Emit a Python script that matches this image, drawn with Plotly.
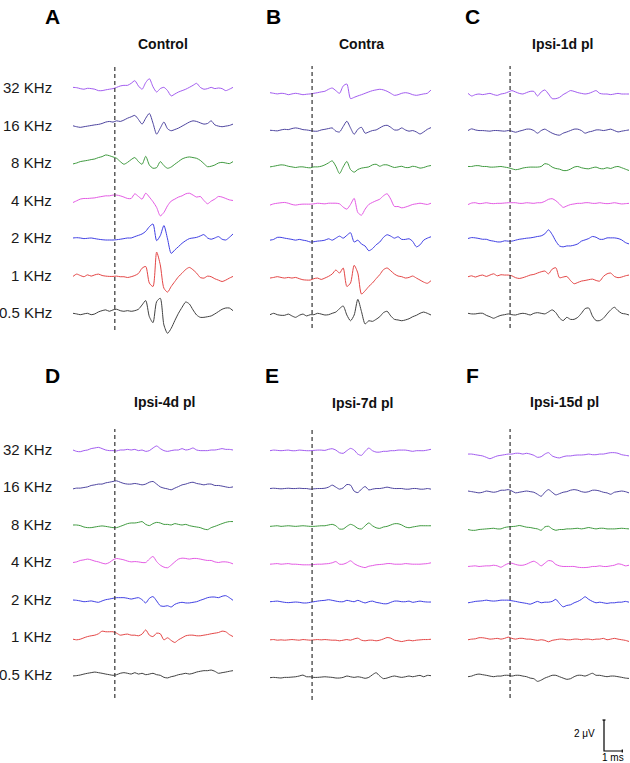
import plotly.graph_objects as go

# ---------------- data ----------------
TIME_MS = [-2.3, -2.1, -1.9, -1.7, -1.5, -1.3, -1.1, -0.9, -0.7, -0.5, -0.3, -0.1,
           0.1, 0.3, 0.5, 0.7, 0.9, 1.1, 1.3, 1.5, 1.7, 1.9, 2.1, 2.3, 2.5, 2.7,
           2.9, 3.1, 3.3, 3.5, 3.7, 3.9, 4.1, 4.3, 4.5, 4.7, 4.9, 5.1, 5.3, 5.5,
           5.7, 5.9, 6.1, 6.3, 6.5]

FREQ_LABELS = ["32 KHz", "16 KHz", "8 KHz", "4 KHz", "2 KHz", "1 KHz", "0.5 KHz"]
PANEL_TITLES = ["Control", "Contra", "Ipsi-1d pl", "Ipsi-4d pl", "Ipsi-7d pl", "Ipsi-15d pl"]
PANEL_LETTERS = ["A", "B", "C", "D", "E", "F"]

# amplitudes in microvolts, one list per frequency (32, 16, 8, 4, 2, 1, 0.5 KHz)
CONTROL = [
    [0.06,0.04,-0.02,-0.06,0,-0.02,-0.06,-0.15,-0.15,-0.1,-0.06,-0.02,0.06,0.15,0.19,0.19,0.32,0.49,0.15,-0.06,0.37,0.62,0.1,-0.24,-0.02,0.06,-0.15,-0.49,-0.37,-0.24,-0.15,-0.06,0.06,0.19,0.32,0.06,-0.06,-0.02,0.06,-0.02,0.02,-0.02,-0.15,-0.06,0.06],
    [0,-0.06,-0.1,-0.06,-0.02,0.02,0.06,0.09,0.15,0.24,0.28,0.24,0.32,0.28,0.37,0.49,0.58,0.67,0.41,0.11,0.49,0.8,0.17,-0.54,-0.15,0.24,-0.19,-0.32,-0.24,-0.15,-0.02,0.11,0.24,0.32,0.28,0.19,0.11,0.15,0.32,0.06,-0.02,-0.06,-0.02,0.02,0.11],
    [-0.04,0.02,0.11,0.15,0.19,0.24,0.28,0.37,0.43,0.54,0.49,0.41,0.32,0.11,-0.06,0.06,0.24,0.37,0.11,-0.06,0.45,-0.11,-0.32,-0.28,0.11,-0.15,-0.32,-0.24,-0.06,0.11,0.28,0.37,0.41,0.37,0.32,0.19,-0.02,-0.22,-0.19,-0.11,0.02,0.06,0.02,-0.02,0.11],
    [-0.11,0,0.11,0.15,0.15,0.17,0.19,0.24,0.28,0.32,0.32,0.37,0.37,0.32,0.24,0.15,0.15,0.45,0.28,0.11,0.49,0.24,-0.06,-0.43,-0.97,-0.75,-0.32,-0.02,0.11,0.24,0.32,0.45,0.49,0.37,0.24,0.28,0.02,-0.19,-0.02,0.11,0.28,0.24,0.15,0.06,0.02],
    [0.02,0.04,0.02,-0.02,0,0.02,-0.02,-0.06,-0.09,-0.11,-0.11,-0.11,-0.09,-0.06,-0.02,0.02,0.02,0.11,0.19,0.28,0.45,0.75,0.92,-0.15,0.17,0.82,-0.04,-0.97,-0.75,-0.54,-0.32,-0.15,-0.02,0.02,0.06,0.15,0.24,0.02,-0.06,0.02,0.11,-0.06,-0.11,0.06,0.28],
    [-0.04,0.11,0.02,-0.06,0.06,-0.02,0.06,0.11,0.02,-0.02,-0.04,-0.04,-0.02,-0.06,-0.06,-0.11,-0.06,0.02,0.15,0.49,0.6,-0.47,-0.69,1.53,0.71,-0.8,-1.05,-0.69,-0.37,-0.06,0.17,0.41,0.54,0.39,0.17,-0.11,-0.15,-0.02,-0.06,-0.19,-0.28,-0.37,-0.28,-0.15,-0.04],
    [0,-0.04,-0.09,-0.04,0,-0.09,-0.04,0.09,0.17,0.22,0.13,0.22,0.26,0.17,0.13,0.17,0.13,0.17,0.26,0.54,0.82,-0.22,-0.6,0.75,0.97,-0.75,-1.29,-0.97,-0.47,0,0.39,0.73,0.6,0.22,-0.11,-0.26,-0.26,-0.22,-0.17,-0.04,0.11,0.26,0.34,0.34,0.17],
]
CONTRA = [
    [0.04,0,-0.04,0,-0.02,-0.09,-0.04,0,-0.04,-0.09,-0.06,-0.04,0,0.04,0.09,0.13,0.26,0.34,0.17,0,0.47,0.6,-0.34,-0.26,-0.17,-0.09,0,0.09,0.17,0.22,0.26,0.22,0.13,0,-0.13,-0.09,0,0.04,0,-0.09,-0.13,-0.09,-0.04,0,0.22],
    [0,-0.02,-0.04,0.02,0.06,0.04,0.11,0.15,0.11,0.04,0.02,-0.02,-0.06,-0.06,0.02,0.06,0.11,0.15,-0.06,-0.11,0.24,0.58,0.15,-0.26,0.06,0.19,-0.19,-0.11,-0.02,0.02,0.15,0.28,0.32,0.19,0.02,0.02,0.15,0.02,-0.06,-0.02,-0.11,-0.24,-0.11,0.06,0.17],
    [0.02,0.06,0.11,0.15,0.13,0.06,0.02,-0.02,0.02,0.02,-0.02,-0.04,0.02,0.02,0.06,0.15,0.28,0.41,0.06,-0.41,0.02,0.37,-0.15,-0.32,-0.15,-0.06,-0.02,0.02,0.15,0.19,0.06,0.15,0.15,0.06,-0.02,0.02,0.06,-0.02,-0.02,0.06,0.02,-0.06,-0.02,0.06,0.11],
    [-0.06,0.02,0.06,0.09,0.11,0.06,-0.02,-0.06,-0.02,0,0,0,0.02,0.06,0.04,0.02,0.06,0.06,0.06,0.02,-0.19,-0.32,-0.02,0.37,-0.54,-0.71,-0.32,-0.02,0.11,0.22,0.32,0.54,0.67,0.32,-0.15,-0.15,-0.24,-0.19,-0.11,-0.02,0.02,0.06,0.02,-0.02,0.06],
    [0.06,0.11,0.24,0.24,0.19,0.15,0.11,0.06,0.11,0.06,0.02,-0.06,-0.04,0,0.02,0.06,0.15,0.06,0.19,0.32,0.19,0.37,0.54,-0.06,0.06,-0.19,-0.32,-0.62,-0.49,-0.24,-0.06,0.24,0.41,0.32,0.19,0.28,0.11,0.11,0.15,-0.02,-0.37,-0.24,0.06,0.19,0.28],
    [0,0.04,0.09,0.04,0,0.04,0,0.04,-0.04,-0.11,-0.13,-0.13,-0.04,0,-0.09,0,0.11,0.26,0.52,0.32,0.65,-0.54,-0.32,0.82,0.32,-1.03,-0.82,-0.54,-0.32,-0.04,0.22,0.54,0.65,0.47,0.26,0.13,0.09,0,0.04,0.13,0,-0.13,-0.26,-0.34,-0.17],
    [0.02,0.11,0.02,-0.02,-0.02,0.06,-0.06,-0.15,-0.02,0.06,-0.06,0.02,0.02,0.11,0.06,0,0.02,0.11,0.19,0.41,0.58,0,-0.37,0,1.01,0.22,-0.58,-0.37,-0.41,-0.28,-0.11,0.15,0.24,-0.06,-0.28,-0.32,-0.37,-0.32,-0.24,-0.11,-0.02,0.11,0.19,0.11,0],
]
IPSI_1D = [
    [0.04,-0.13,-0.04,0,-0.04,0,0.04,-0.04,-0.09,0,0.04,0.13,0.22,0.13,0.04,0,0.09,0.17,0.17,-0.13,0.13,0.26,0,-0.3,-0.3,-0.22,-0.04,0.09,0.22,0.17,0.09,0.04,0,0.04,0.13,0.22,0.04,0,0,-0.04,0,0.04,0,0,0],
    [0,0.11,0.04,0,0,-0.02,-0.04,0,0,-0.02,-0.04,0,-0.04,-0.11,-0.04,0.02,0.09,0.09,0,-0.17,0,0.09,-0.04,-0.17,-0.26,-0.3,-0.17,-0.09,0,0.09,0.09,0,-0.17,-0.09,-0.04,0.04,0.04,0,0.04,0.09,0,-0.09,-0.04,0,0.04],
    [0.04,0.04,0.09,0.09,0.04,0.04,0,0,0.02,0.04,0,-0.04,-0.11,-0.17,-0.13,-0.06,-0.02,0,0,0,0.04,0.22,0.17,0,-0.09,-0.13,-0.22,-0.22,-0.13,0,0.04,-0.04,-0.09,-0.11,-0.04,0,-0.09,-0.11,-0.04,-0.09,0,0.04,-0.04,-0.13,-0.22],
    [-0.06,0.04,0.06,0,0.02,0.06,0.02,0,0.02,0.02,0.04,0.06,0.06,0.06,0.02,0.02,0.06,0.04,0.02,0.06,0.06,0.15,0.28,0.32,0.19,-0.02,-0.24,-0.15,-0.06,-0.02,0.02,0.02,0.06,0.06,0.02,0.02,0.06,0.02,0,0.02,0.06,0.02,-0.02,0,0.02],
    [0.11,0.17,0.15,0.11,0.06,0.06,-0.02,-0.06,-0.11,-0.11,-0.04,-0.06,-0.06,0,0.06,0.09,0.13,0.15,0.19,0.24,0.28,0.41,0.67,0.37,-0.06,-0.37,-0.43,-0.37,-0.37,-0.32,-0.24,-0.06,0.02,0.11,0.24,0.19,0.06,0.06,0.15,0.15,0.15,0.11,0.02,-0.15,-0.24],
    [0,0.06,-0.02,0.06,0.11,0.02,0.11,0.19,0.06,0.13,0.11,0.11,0.06,-0.06,-0.11,-0.06,0.02,0.11,0.15,0.24,0.32,0.37,0.19,0.49,0.58,-0.06,-0.02,0.02,-0.24,-0.45,-0.37,-0.28,-0.24,-0.19,-0.15,-0.24,-0.28,0.02,0.19,0.24,0.02,-0.06,-0.02,0.06,0.11],
    [0,-0.04,-0.04,0,0,-0.13,-0.22,-0.32,-0.22,-0.13,-0.09,-0.04,-0.09,-0.11,-0.04,0,-0.04,-0.11,0,0.04,0,-0.04,0.09,0.22,0.04,-0.3,-0.47,-0.26,-0.39,-0.39,-0.26,0,0.3,0.34,-0.17,-0.47,-0.47,-0.32,-0.04,0.22,0.39,0.17,0,-0.04,-0.11],
]
IPSI_4D = [
    [0,-0.09,-0.11,-0.04,0,0.09,0.13,0.17,0.09,0,-0.04,-0.04,-0.06,0,0,0.04,0,0.04,-0.04,0,-0.09,-0.04,0.13,0.26,0.09,-0.04,-0.09,-0.04,0,0,0.09,0,0.04,0.13,0,-0.04,-0.04,-0.04,0,0,0.04,0.09,0.04,0.04,0],
    [-0.09,-0.04,-0.04,0,0.04,0.13,0.17,0.22,0.22,0.3,0.34,0.39,0.43,0.34,0.26,0.22,0.22,0.26,0.22,0.17,0.22,0.34,0.39,0.22,0.04,-0.04,-0.09,-0.15,-0.04,0.06,0.17,0.22,0.3,0.34,0.26,0.22,0.17,0.22,0.22,0.13,0.13,0.09,0.04,0,0.04],
    [0,0,-0.04,-0.13,-0.17,-0.17,-0.13,-0.09,-0.06,-0.09,-0.13,-0.17,-0.17,-0.09,0,0.09,0.13,0.13,0.17,0.22,0.04,-0.04,0.09,0.17,0.13,0.04,0.04,0,0.09,0.04,0,0.04,-0.04,-0.09,-0.13,-0.17,-0.26,-0.3,-0.17,-0.09,0,0.09,0.17,0.22,0.22],
    [0,0.04,0.13,0.17,0.22,0.17,0.09,0.04,-0.04,-0.09,0,0.17,0.26,0.22,0.17,0.09,0.04,0.06,0.04,0,0,0.22,0.39,0.06,-0.17,-0.3,-0.34,-0.17,0.04,0.22,0.28,0.26,0.22,0.26,0.26,0.22,0.17,0.13,0.13,0.04,0,0.04,0.04,0,-0.09],
    [0,-0.02,-0.06,-0.11,-0.09,-0.06,-0.11,-0.15,-0.06,0.02,0.06,0.11,0.15,0.15,0.15,0.11,0.06,0.11,0.15,0.02,-0.19,0.11,0.22,-0.06,-0.37,-0.41,-0.37,-0.45,-0.28,-0.19,-0.15,-0.19,-0.19,-0.15,-0.11,-0.02,0.06,0.15,0.19,0.19,0.15,0.24,0.28,0.15,-0.02],
    [-0.11,-0.15,-0.11,-0.02,0.06,0.11,0.15,0.24,0.41,0.37,0.37,0.37,0.28,0.15,0.19,0.22,0.15,0.15,0.11,0.22,0.49,0.15,0.06,0.28,0.24,-0.15,-0.02,-0.19,-0.32,-0.15,-0.02,0.11,0.15,0.15,0.11,0.11,0.15,0.19,0.24,0.28,0.32,0.41,0.37,0.19,0.06],
    [-0.06,-0.04,0,0.06,0.11,0.15,0.19,0.15,0.11,0.06,0.02,-0.02,0.02,0.11,0.15,0.11,0.06,0.15,0.06,0.11,0.02,0.06,0.11,0.02,-0.02,-0.15,-0.19,-0.11,-0.06,0.02,0.06,0.11,0.06,0.11,0.19,0.24,0.28,0.28,0.32,0.24,0.11,0.15,0.19,0.24,0.28],
]
IPSI_7D = [
    [0,0.04,0.02,0,0.02,0.04,0,0,0.04,0.02,0,0,0.02,0.04,0.04,0.02,0.09,0.13,0.04,-0.13,-0.17,0,0.15,0.04,-0.22,-0.3,-0.04,0.17,0,-0.09,-0.09,-0.04,-0.04,0,0,0.04,0.04,0.04,0,-0.04,0,0,0,0.04,0.09],
    [0,0.02,0,-0.02,0,0.02,0,0,0.02,0,0,-0.04,-0.02,0,0,0.02,0.09,0.22,0.09,-0.04,0.04,0.26,0.22,-0.17,-0.26,-0.04,0.13,-0.09,-0.04,0,0,0.04,0.09,0.04,0,0,0,-0.04,-0.04,0,0,-0.04,-0.04,0,-0.04],
    [0,0.02,0.04,0,0.02,0.04,0.02,0,0.02,0.04,0.02,0,0,0.02,0.04,0.04,0.09,0.13,0.04,-0.17,-0.17,0,0.13,0.04,-0.13,-0.17,0.04,0.22,0.04,-0.09,-0.13,-0.04,0,0.09,0.17,0.17,0.09,-0.04,-0.09,-0.04,0,0.04,0.04,0.04,0.04],
    [0,0.02,0.04,0,0.02,0.04,0,0,-0.02,-0.04,-0.04,-0.04,-0.02,0,0,0.02,0.04,0.09,0.17,0,0,0.09,0.22,0.04,-0.09,-0.17,-0.22,-0.13,-0.09,-0.04,-0.02,0,0.04,0.04,0,0,0,0.04,0.02,0,0,0,0.02,0.04,0.09],
    [0.02,0.04,0.06,0.02,-0.02,-0.04,-0.02,0,-0.02,-0.06,-0.06,-0.02,0.02,0.06,0.09,0.11,0.15,0.11,0.06,0.02,0.02,0.11,0.06,0.02,0.11,0.02,-0.06,0.02,0.06,-0.02,-0.06,-0.11,-0.11,-0.02,0.06,0.06,0.02,0.02,0.06,-0.02,0.02,0.06,0.02,0,0],
    [0,0.02,-0.02,0,-0.02,0,0.02,0,-0.02,0.02,0,-0.02,0,0.02,0,0.02,0,-0.02,-0.02,-0.06,-0.02,0.02,-0.02,0.06,0.11,-0.02,-0.06,-0.02,-0.02,-0.06,-0.02,0.06,0.15,0.11,-0.02,-0.06,-0.11,-0.06,-0.02,-0.06,-0.02,0,0.02,0.02,0.04],
    [0,0.02,0,-0.02,0.02,0.02,0.04,0.06,0.11,0.17,0.06,0.06,0.02,0.02,0.04,0.06,0.04,0.02,-0.02,-0.02,0.02,0.11,0.06,0.02,0.06,0.02,-0.04,0.02,0.19,0.32,0.11,-0.06,-0.02,0.06,0.11,0.06,0.02,0.06,0.11,0.06,0.11,0.15,0.06,0.15,0.13],
]
IPSI_15D = [
    [0.06,0.06,0.02,-0.02,-0.06,-0.15,-0.24,-0.15,-0.06,-0.02,0.02,0.06,0.06,0.11,0.11,0.06,0.11,0.06,-0.02,-0.15,-0.11,0.06,0.15,-0.06,-0.15,-0.19,-0.11,-0.06,-0.06,-0.02,0,0,0.02,0.06,0.02,0.02,0.06,0.06,0.11,0.15,0.15,0.11,0.02,-0.02,-0.06],
    [0.06,0.02,-0.02,-0.06,-0.02,0.06,0.02,-0.02,0.02,0.11,0.11,0.15,0.06,-0.06,-0.02,0.02,0.06,0.02,-0.02,-0.15,-0.28,-0.02,0.15,-0.02,-0.19,-0.11,-0.02,0.02,0.11,0.15,0.11,0.02,-0.02,0.02,0.11,0.11,0.06,-0.02,-0.06,-0.15,-0.02,0.02,0.06,0.02,-0.06],
    [-0.04,-0.09,-0.09,-0.04,-0.02,0,0.02,0.04,0,0,0.09,0.13,0.15,0.17,0.22,0.17,0.11,0.09,0.04,0,-0.09,0.13,0.17,0,-0.09,-0.04,-0.04,0,0,0.02,0.04,0,0.04,0.09,0.04,0,0.04,0.04,0,0,0,0.02,0.04,0.02,0],
    [-0.04,-0.02,0,-0.04,-0.02,0,0,0.04,0,-0.09,0.04,0.15,0.17,0.09,0.04,0.04,0.11,0.22,0.3,0.17,0,0.17,0.34,0.3,0.09,0,-0.04,-0.04,-0.04,-0.04,-0.09,-0.11,-0.11,-0.09,-0.04,-0.04,0,-0.04,-0.04,0,0.04,0.13,0.09,0,0.04],
    [0,0.04,0.09,0.11,0.13,0.17,0.13,0.11,0.13,0.17,0.17,0.17,0.13,0.09,0.04,0,-0.04,-0.09,0,0.09,0,0.04,0.04,0.09,0.22,-0.04,-0.26,-0.17,-0.13,0,0.09,0.22,0.39,0.22,0.09,0,0.04,0,-0.04,0,0,0.04,0.04,0.09,0.04],
    [0,0.04,0.06,0.13,0.13,0.09,0.04,0.06,0.09,0.04,0.09,0.17,0.09,0.04,0.09,0.09,0.04,0.04,0,-0.04,0,-0.04,-0.13,-0.04,0,0.04,0.04,0,0,0.04,0.04,0,0.04,0.04,0,0.04,0.04,0.09,0,0.04,0.09,0.04,0,-0.04,-0.11],
    [0,0.04,0.13,0.17,0.13,0.09,0.04,0,0.04,0.04,0.09,0.09,0.04,0.09,0.09,0.04,0,-0.09,-0.13,-0.3,-0.22,-0.09,0,0.09,0.09,0,-0.09,-0.17,-0.13,0,0.09,0.09,0.04,0.13,0.22,0.09,0.09,0.04,0,0.04,0.04,0,-0.04,-0.09,-0.11],
]
PANEL_DATA = [CONTROL, CONTRA, IPSI_1D, IPSI_4D, IPSI_7D, IPSI_15D]

SCALE_MS = 1
SCALE_UV = 2

# ---------------- styling / layout ----------------
W, H = 630, 763
PX_PER_UV = 15.5
COLORS = ["#a25cf0", "#4d449f", "#3f9a3f", "#e45ae4", "#3f3fe4", "#e44646", "#404040"]
FONT = "Liberation Sans, Arial, Helvetica, sans-serif"
T0, T1 = TIME_MS[0], TIME_MS[-1]

# x0, x1, first-row baseline, last-row baseline, dash top, dash bottom, domain top, domain bottom (pixels)
GEOM = [
    (73, 233, 88.3, 313.3, 65, 330, 45, 360),
    (270, 431, 93.3, 315.0, 66, 328, 45, 360),
    (468, 629, 94.0, 313.3, 66, 328, 45, 360),
    (73, 233, 450.0, 675.0, 429, 698, 415, 763),
    (270, 431, 450.7, 677.7, 429, 700, 415, 763),
    (468, 629, 455.0, 676.7, 429, 698, 415, 763),
]

fig = go.Figure()
layout_axes = {}
shapes = []
annotations = []


def py(px):
    return 1 - px / H


def px_x(px):
    return px / W


for p, (x0, x1, b0, b6, d0, d1, dt, db) in enumerate(GEOM):
    n = p + 1
    xa = "x" if n == 1 else f"x{n}"
    ya = "y" if n == 1 else f"y{n}"
    spacing = (b6 - b0) / 6.0
    ymin = -(db - b6) / PX_PER_UV
    ymax = (b6 - dt) / PX_PER_UV
    layout_axes["xaxis" if n == 1 else f"xaxis{n}"] = dict(
        domain=[px_x(x0), px_x(x1)], range=[T0, T1], visible=False, anchor=ya, fixedrange=True)
    layout_axes["yaxis" if n == 1 else f"yaxis{n}"] = dict(
        domain=[py(db), py(dt)], range=[ymin, ymax], visible=False, anchor=xa, fixedrange=True)

    for k, vals in enumerate(PANEL_DATA[p]):
        offset = (6 - k) * spacing / PX_PER_UV
        t = TIME_MS[:len(vals)]
        fig.add_trace(go.Scatter(
            x=t, y=[v + offset for v in vals], mode="lines", xaxis=xa, yaxis=ya,
            line=dict(color=COLORS[k], width=1.0, shape="spline", smoothing=0.7),
            hoverinfo="skip", showlegend=False))

    # stimulus onset dashed line
    shapes.append(dict(type="line", xref=xa, yref="paper", x0=0, x1=0,
                       y0=py(d1), y1=py(d0),
                       line=dict(color="#333333", width=1.2, dash="4px,3px")))

    # frequency labels for first column
    if p in (0, 3):
        for k, lab in enumerate(FREQ_LABELS):
            offset = (6 - k) * spacing / PX_PER_UV
            annotations.append(dict(text=lab, xref="paper", yref=ya, x=px_x(54), y=offset + 0.05,
                                    xanchor="right", yanchor="middle", showarrow=False,
                                    font=dict(family=FONT, size=15, color="#1a1a1a")))

# panel letters and titles
LETTER_POS = [(52, 16), (273, 16), (472, 16), (52, 375), (272, 375), (472, 375)]
TITLE_POS = [(163, 44), (361, 44), (562, 44), (164, 402), (362, 403), (564, 402)]
for p in range(6):
    lx, ly = LETTER_POS[p]
    annotations.append(dict(text=f"<b>{PANEL_LETTERS[p]}</b>", xref="paper", yref="paper",
                            x=px_x(lx), y=py(ly), xanchor="center", yanchor="middle", showarrow=False,
                            font=dict(family=FONT, size=21, color="#000000")))
    tx, ty = TITLE_POS[p]
    annotations.append(dict(text=f"<b>{PANEL_TITLES[p]}</b>", xref="paper", yref="paper",
                            x=px_x(tx), y=py(ty), xanchor="center", yanchor="middle", showarrow=False,
                            font=dict(family=FONT, size=14, color="#111111")))

# scale bar drawn in panel F's data coordinates
x0F, x1F, b0F, b6F = GEOM[5][0], GEOM[5][1], GEOM[5][2], GEOM[5][3]
ms_per_px = (T1 - T0) / (x1F - x0F)
sb_t = T0 + (604 - x0F) * ms_per_px
sb_v = (b6F - 751) / PX_PER_UV
cap_t = 1.5 * ms_per_px
cap_v = 1.5 / PX_PER_UV
bar_style = dict(color="#000000", width=1.2)
fig.add_trace(go.Scatter(x=[sb_t, sb_t, sb_t + SCALE_MS], y=[sb_v + SCALE_UV, sb_v, sb_v],
                         mode="lines", xaxis="x6", yaxis="y6", line=bar_style,
                         hoverinfo="skip", showlegend=False))
fig.add_trace(go.Scatter(x=[sb_t - cap_t, sb_t + cap_t], y=[sb_v + SCALE_UV] * 2,
                         mode="lines", xaxis="x6", yaxis="y6", line=bar_style,
                         hoverinfo="skip", showlegend=False))
fig.add_trace(go.Scatter(x=[sb_t + SCALE_MS] * 2, y=[sb_v - cap_v, sb_v + cap_v],
                         mode="lines", xaxis="x6", yaxis="y6", line=bar_style,
                         hoverinfo="skip", showlegend=False))
annotations.append(dict(text=f"{SCALE_UV} μV", xref="x6", yref="y6", x=sb_t - 7 * ms_per_px,
                        y=sb_v + SCALE_UV * 0.55, xanchor="right", yanchor="middle", showarrow=False,
                        font=dict(family=FONT, size=10, color="#000000")))
annotations.append(dict(text=f"{SCALE_MS} ms", xref="x6", yref="y6", x=sb_t + SCALE_MS * 0.5,
                        y=sb_v - 0.45, xanchor="center", yanchor="middle", showarrow=False,
                        font=dict(family=FONT, size=10, color="#000000")))

fig.update_layout(
    width=W, height=H, margin=dict(l=0, r=0, t=0, b=0),
    paper_bgcolor="white", plot_bgcolor="rgba(0,0,0,0)",
    showlegend=False, shapes=shapes, annotations=annotations,
    **layout_axes,
)

fig.write_html("out.html", config={"displayModeBar": False},
               post_script="document.body.style.margin='0';document.body.style.overflow='hidden';")
